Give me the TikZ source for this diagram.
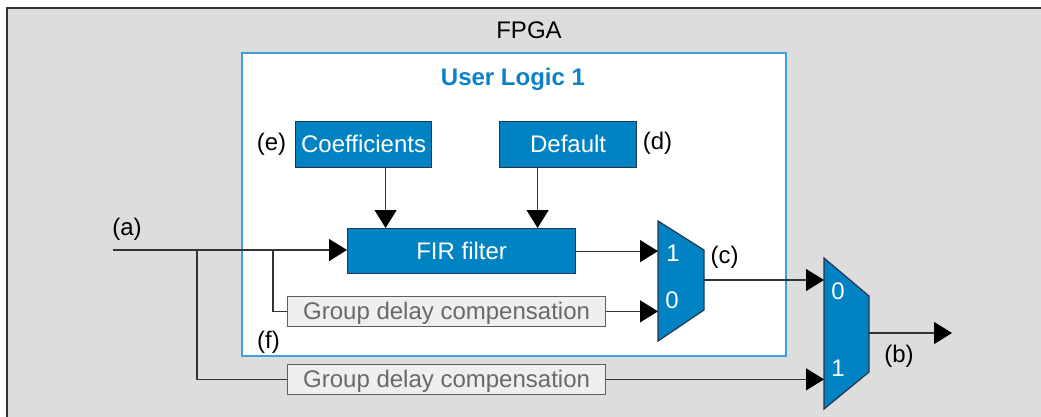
\documentclass[tikz,border=0pt]{standalone}
\usepackage{fontspec}
\setmainfont{Liberation Sans}
\usetikzlibrary{arrows.meta}
\definecolor{fpgabg}{RGB}{221,221,221}
\definecolor{blk}{RGB}{0,130,195}
\definecolor{blkedge}{RGB}{35,55,75}
\definecolor{ulborder}{RGB}{60,160,220}
\definecolor{ultitle}{RGB}{10,130,200}
\definecolor{gdcfill}{RGB}{239,239,239}
\definecolor{gdcedge}{RGB}{95,95,95}
\definecolor{gdctext}{RGB}{105,105,105}
\begin{document}
\begin{tikzpicture}[x=1pt,y=-1pt,
  font=\fontsize{24}{28}\selectfont,
  bluebox/.style={draw=blkedge, fill=blk, text=white, line width=1.2pt, inner sep=0pt,
    anchor=north west, text height=16.5pt, text depth=0pt},
  gdcbox/.style={draw=gdcedge, fill=gdcfill, text=gdctext, line width=1.2pt, inner sep=0pt,
    anchor=north west, text height=16.5pt, text depth=0pt},
  muxshape/.style={draw=blkedge, fill=blk, line width=1.2pt},
  muxlbl/.style={text=white, inner sep=0pt},
  wire/.style={line width=1.2pt, draw=black!80},
  arr/.style={wire, -{Triangle[length=18pt,width=22pt,color=black]}},
  lbl/.style={inner sep=0pt}]
\useasboundingbox (0,0) rectangle (1041,416);
\begin{scope}
\clip (0,0) rectangle (1041,416);
\draw[fill=fpgabg, draw=black!80, line width=1.3pt] (7,8) rectangle (1060,430);
\end{scope}
\node[lbl] (fpga) at (529,30.5) {FPGA};
% user logic
\draw[fill=white, draw=ulborder, line width=1.2pt] (242,53) rectangle (786,356);
\node[lbl, anchor=base, text=ultitle, font=\fontsize{24}{28}\selectfont\bfseries] (ultitle) at (513,85) {User Logic 1};
% blocks
\node[bluebox, minimum width=136pt, minimum height=46pt] (coef) at (295,121) {Coefficients};
\node[bluebox, minimum width=137pt, minimum height=46pt] (dflt) at (499,121) {Default};
\node[bluebox, minimum width=228pt, minimum height=45pt] (fir) at (347,228) {FIR filter};
\node[gdcbox, minimum width=318pt, minimum height=30.5pt] (gdc1) at (287,295.5) {Group delay compensation};
\node[gdcbox, minimum width=318pt, minimum height=30.5pt] (gdc2) at (287,363.5) {Group delay compensation};
% labels
\node[lbl] (la) at (127,229.5) {(a)};
\node[lbl] (le) at (271.5,144) {(e)};
\node[lbl] (ld) at (657.5,143.5) {(d)};
\node[lbl] (lc) at (724.5,257.5) {(c)};
\node[lbl] (lb) at (899,356) {(b)};
\node[lbl] (lf) at (268.5,342.5) {(f)};
% mux 1
\draw[muxshape] (658,221) -- (704,250) -- (704,310) -- (658,341) -- cycle;
\coordinate (m1i1) at (658,250);
\coordinate (m1i0) at (658,311);
\coordinate (m1o) at (704,280);
\node[muxlbl] (m1l1) at (673,253) {1};
\node[muxlbl] (m1l0) at (672,300.5) {0};
% mux 2
\draw[muxshape] (824,258) -- (869,296) -- (869,372) -- (824,409) -- cycle;
\coordinate (m2i0) at (824,280);
\coordinate (m2i1) at (824,379);
\coordinate (m2o) at (869,333);
\node[muxlbl] (m2l0) at (838,291.5) {0};
\node[muxlbl] (m2l1) at (838,368.5) {1};
\coordinate (bout) at (952,333);
% wires
\coordinate (ain) at (113,250);
\coordinate (br1) at (197,250);
\coordinate (br2) at (273,250);
\coordinate (cA) at ([xshift=22pt]coef.south);
\coordinate (dA) at ([xshift=-30.5pt]dflt.south);
\draw[arr] (ain) -- (ain -| fir.west);
\draw[wire] (br1) |- (gdc2.west);
\draw[wire] (br2) |- (gdc1.west);
\draw[arr] (cA) -- (cA |- fir.north);
\draw[arr] (dA) -- (dA |- fir.north);
\draw[arr] (fir.east) -- (fir.east -| m1i1);
\draw[arr] (gdc1.east) -- (gdc1.east -| m1i0);
\draw[arr] (m1o) -- (m2i0);
\draw[arr] (gdc2.east) -- (gdc2.east -| m2i1);
\draw[arr] (m2o) -- (bout);
\end{tikzpicture}
\end{document}
